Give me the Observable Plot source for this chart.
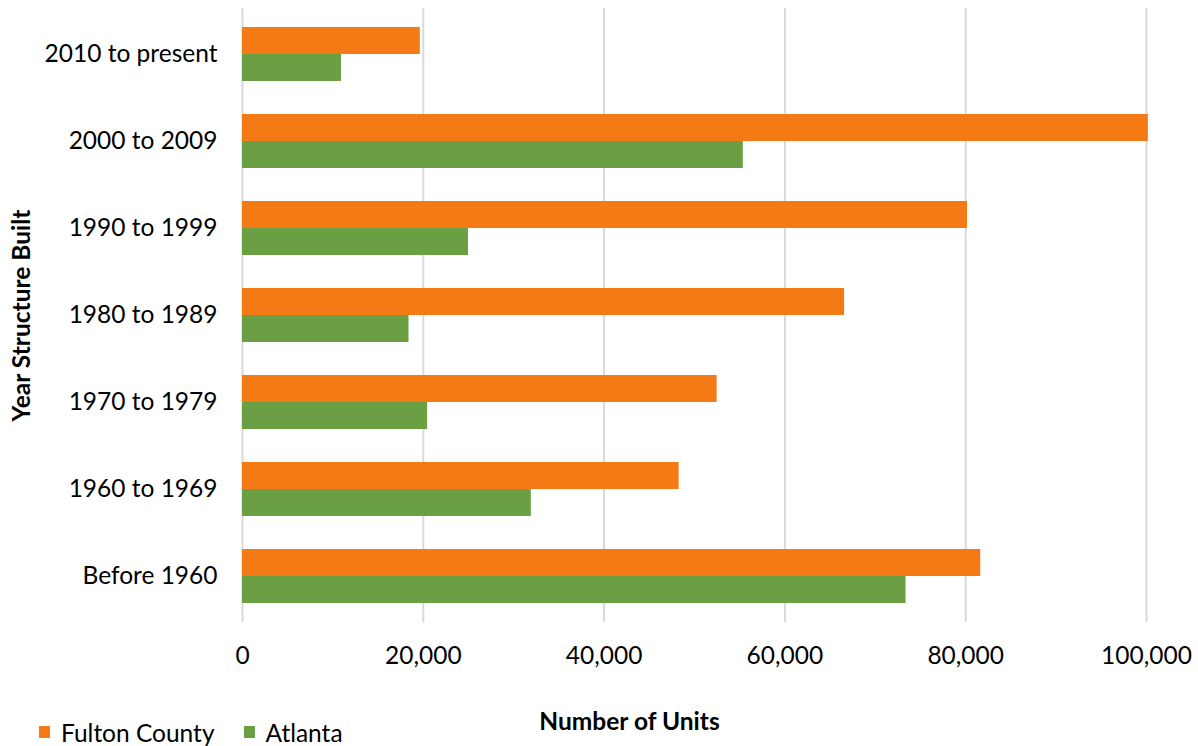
<!DOCTYPE html>
<html>
<head>
<meta charset="utf-8">
<script src="https://cdn.jsdelivr.net/npm/d3@7"></script>
<script src="https://cdn.jsdelivr.net/npm/@observablehq/plot@0.6"></script>
<style>
  html, body { margin: 0; padding: 0; background: #fff; }
  body { width: 1198px; height: 746px; position: relative; overflow: hidden; font-family: Lato, "Open Sans", sans-serif; }
  #legend { position: absolute; left: 39px; top: 716px; height: 32px; display: flex; align-items: center; font-size: 24.5px; color: #000; }
  #legend .item { display: flex; align-items: center; margin-right: 29px; }
  #legend .sw { width: 11px; height: 12px; margin-right: 11px; }
</style>
</head>
<body>
<div id="chart"></div>
<div id="legend"></div>
<script>
const categories = ["2010 to present", "2000 to 2009", "1990 to 1999", "1980 to 1989", "1970 to 1979", "1960 to 1969", "Before 1960"];
const seriesNames = ["Fulton County", "Atlanta"];
const fultonValues = [19670, 100200, 80200, 66600, 52500, 48300, 81660];
const atlantaValues = [10960, 55400, 25000, 18420, 20480, 31950, 73400];
const xTicks = [0, 20000, 40000, 60000, 80000, 100000];
const colors = ["#F47A16", "#6AA043"];

const fulton = categories.map((c, i) => ({category: c, series: seriesNames[0], value: fultonValues[i]}));
const atlanta = categories.map((c, i) => ({category: c, series: seriesNames[1], value: atlantaValues[i]}));

const chart = Plot.plot({
  width: 1198,
  height: 746,
  marginLeft: 242,
  marginRight: 52,
  marginTop: 8,
  marginBottom: 124,
  style: {fontFamily: "Lato, 'Open Sans', sans-serif", fontSize: "24.5px", color: "#000", background: "#fff"},
  x: {domain: [0, 100000], ticks: xTicks, tickFormat: d3.format(","), tickSize: 0, tickPadding: 24, label: null},
  y: {domain: categories, paddingInner: 0.384, paddingOuter: 0.192, tickSize: 0, tickPadding: 25, label: null},
  color: {domain: seriesNames, range: colors},
  marks: [
    Plot.ruleX(xTicks, {stroke: "#d9d9d9", strokeWidth: 2}),
    Plot.barX(fulton, {x: "value", y: "category", fill: "series", insetBottom: 27}),
    Plot.barX(atlanta, {x: "value", y: "category", fill: "series", insetTop: 27}),
    Plot.text(["Year Structure Built"], {frameAnchor: "left", textAnchor: "middle", lineAnchor: "middle", dx: -220, rotate: -90, fontWeight: "bold", fontSize: 24.5, fill: "#000"}),
    Plot.text(["Number of Units"], {frameAnchor: "bottom", textAnchor: "middle", lineAnchor: "middle", dx: -65, dy: 100, fontWeight: "bold", fontSize: 24.5, fill: "#000"})
  ]
});
document.getElementById("chart").appendChild(chart);

const legend = document.getElementById("legend");
seriesNames.forEach((name, i) => {
  const item = document.createElement("div");
  item.className = "item";
  const sw = document.createElement("span");
  sw.className = "sw";
  sw.style.background = colors[i];
  const label = document.createElement("span");
  label.textContent = name;
  item.appendChild(sw);
  item.appendChild(label);
  legend.appendChild(item);
});
</script>
</body>
</html>
